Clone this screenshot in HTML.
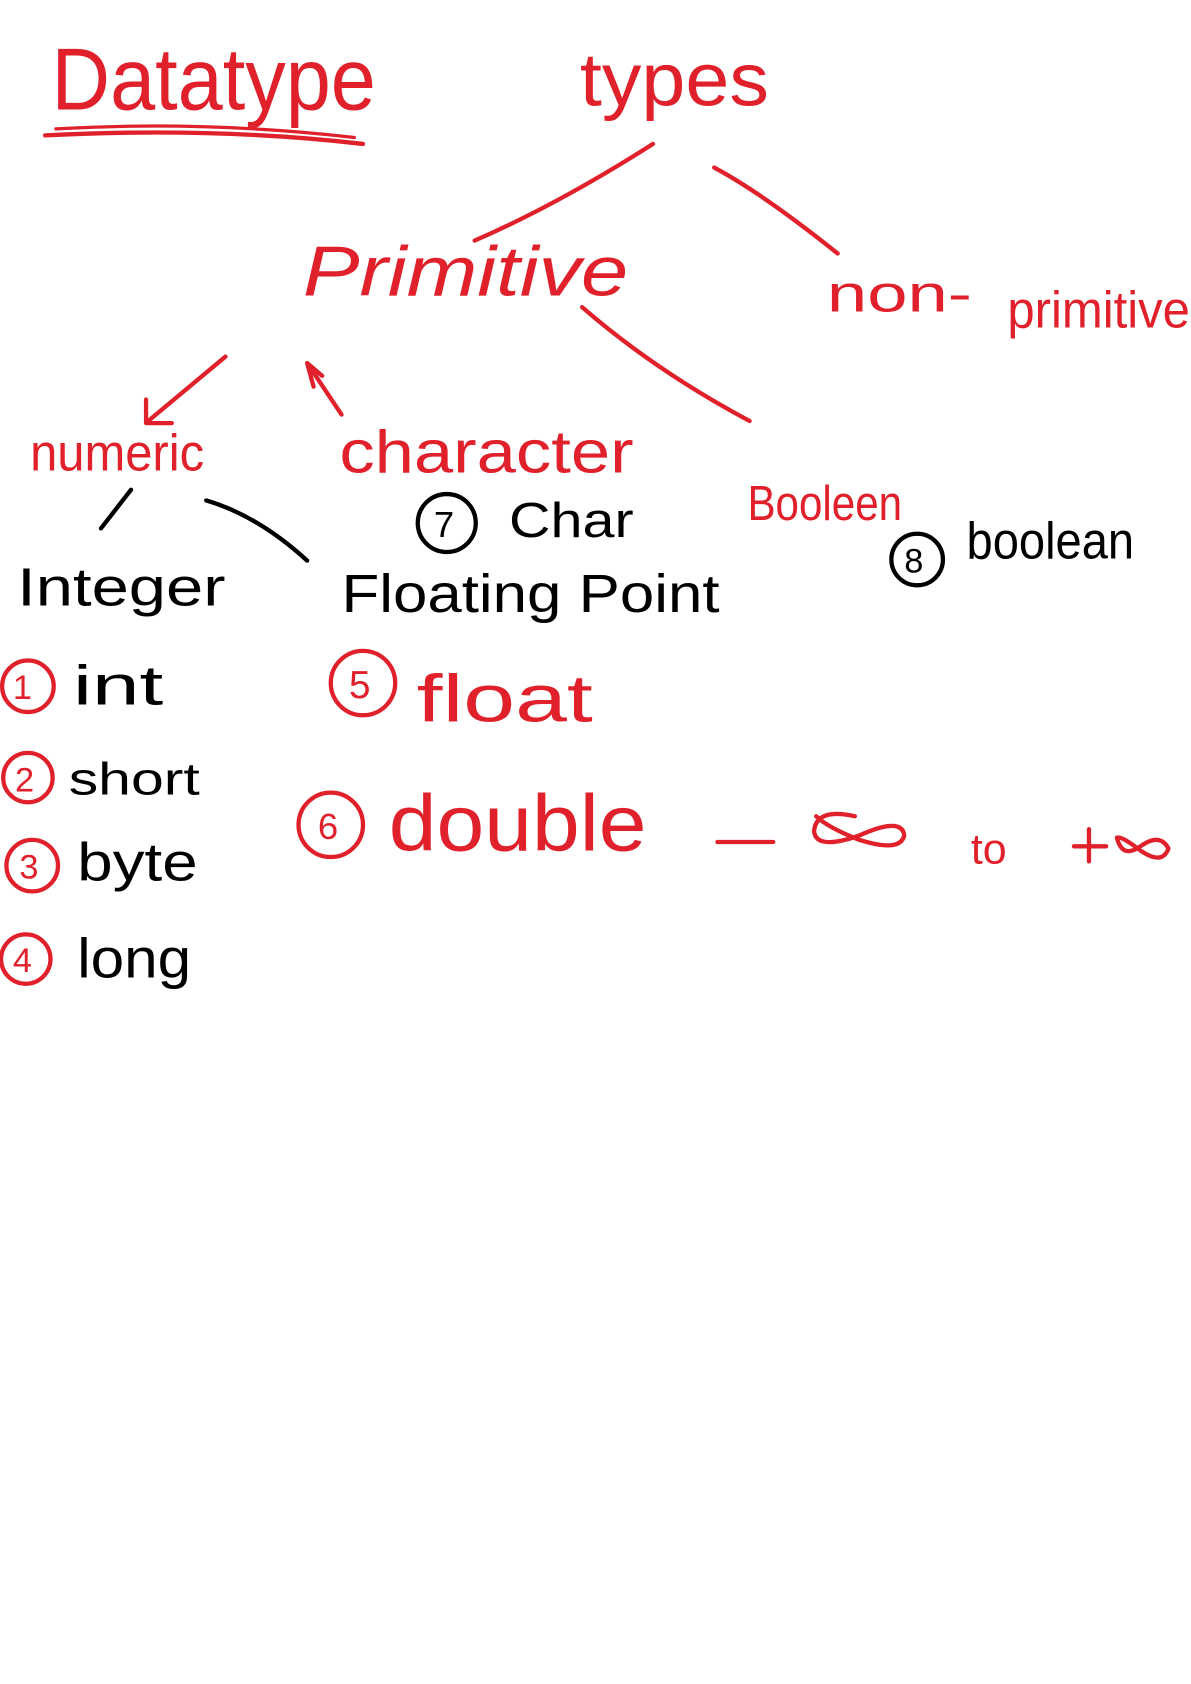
<!DOCTYPE html>
<html><head><meta charset="utf-8"><style>
html,body{margin:0;padding:0;background:#fff;}
svg{display:block;}
text{font-family:"Liberation Sans",sans-serif;}
.r{fill:#e0202a;}
.k{fill:#000;}
</style></head><body>
<svg width="1191" height="1684" viewBox="0 0 1109 1568" xmlns="http://www.w3.org/2000/svg">
<g fill="none" stroke-linecap="round" stroke-linejoin="round">
<g stroke="#e0202a" stroke-width="4">
<path d="M42 126 Q200 118 338 134"/>
<path d="M52 120 Q190 112 330 128" stroke-width="3"/>
<path d="M608 134 Q520 190 442 224"/>
<path d="M665 156 Q710 180 780 236"/>
<path d="M542 286 Q610 345 698 392"/>
<path d="M210 332 L138 392 M136 372 L136 394 L160 394"/>
<path d="M286 338 L318 386 M286 338 L292 360 M286 338 L300 350"/>
<path d="M668 784 L720 784"/>
<path d="M796 760 Q760 752 758 774 Q760 792 800 778 Q840 760 842 778 Q838 794 800 782 Q770 770 760 760"/>
<path d="M1000 788 L1030 788 M1014 772 L1014 802"/>
<path d="M1040 780 Q1045 800 1062 788 Q1080 775 1088 790 Q1082 806 1062 792 Q1044 778 1040 780"/>
<circle cx="26" cy="639" r="24"/>
<circle cx="26" cy="724" r="23"/>
<circle cx="30" cy="806" r="24"/>
<circle cx="24" cy="893" r="23"/>
<circle cx="338" cy="636" r="30"/>
<circle cx="308" cy="768" r="30"/>
</g>
<g stroke="#000" stroke-width="4">
<path d="M122 456 L94 492"/>
<path d="M192 466 Q240 480 286 522"/>
<circle cx="416" cy="487" r="27"/>
<circle cx="854" cy="521" r="24"/>
</g>
</g>
<text x="48" y="102" class="r" font-size="82" textLength="302" lengthAdjust="spacingAndGlyphs">Datatype</text>
<text x="540" y="98" class="r" font-size="70" textLength="176" lengthAdjust="spacingAndGlyphs">types</text>
<text x="282" y="275" class="r" font-size="66" font-style="italic" textLength="303" lengthAdjust="spacingAndGlyphs">Primitive</text>
<text x="770" y="290" class="r" font-size="48" textLength="135" lengthAdjust="spacingAndGlyphs">non-</text>
<text x="938" y="305" class="r" font-size="48" textLength="170" lengthAdjust="spacingAndGlyphs">primitive</text>
<text x="28" y="438" class="r" font-size="48" textLength="162" lengthAdjust="spacingAndGlyphs">numeric</text>
<text x="316" y="440" class="r" font-size="56" textLength="274" lengthAdjust="spacingAndGlyphs">character</text>
<text x="696" y="484" class="r" font-size="46" textLength="144" lengthAdjust="spacingAndGlyphs">Booleen</text>
<text x="12" y="651" class="r" font-size="32">1</text>
<text x="14" y="737" class="r" font-size="32">2</text>
<text x="18" y="818" class="r" font-size="32">3</text>
<text x="12" y="905" class="r" font-size="32">4</text>
<text x="325" y="650" class="r" font-size="36">5</text>
<text x="296" y="781" class="r" font-size="34">6</text>
<text x="388" y="672" class="r" font-size="62" textLength="164" lengthAdjust="spacingAndGlyphs">float</text>
<text x="362" y="792" class="r" font-size="74" textLength="240" lengthAdjust="spacingAndGlyphs">double</text>
<text x="904" y="804" class="r" font-size="40">to</text>
<text x="404" y="500" class="k" font-size="34">7</text>
<text x="842" y="533" class="k" font-size="32">8</text>
<text x="474" y="500" class="k" font-size="46" textLength="116" lengthAdjust="spacingAndGlyphs">Char</text>
<text x="900" y="520" class="k" font-size="48" textLength="156" lengthAdjust="spacingAndGlyphs">boolean</text>
<text x="16" y="564" class="k" font-size="50" textLength="194" lengthAdjust="spacingAndGlyphs">Integer</text>
<text x="318" y="570" class="k" font-size="50" textLength="352" lengthAdjust="spacingAndGlyphs">Floating Point</text>
<text x="68" y="656" class="k" font-size="52" textLength="84" lengthAdjust="spacingAndGlyphs">int</text>
<text x="64" y="740" class="k" font-size="42" textLength="122" lengthAdjust="spacingAndGlyphs">short</text>
<text x="72" y="820" class="k" font-size="50" textLength="112" lengthAdjust="spacingAndGlyphs">byte</text>
<text x="72" y="910" class="k" font-size="52" textLength="106" lengthAdjust="spacingAndGlyphs">long</text>
</svg>
</body></html>
